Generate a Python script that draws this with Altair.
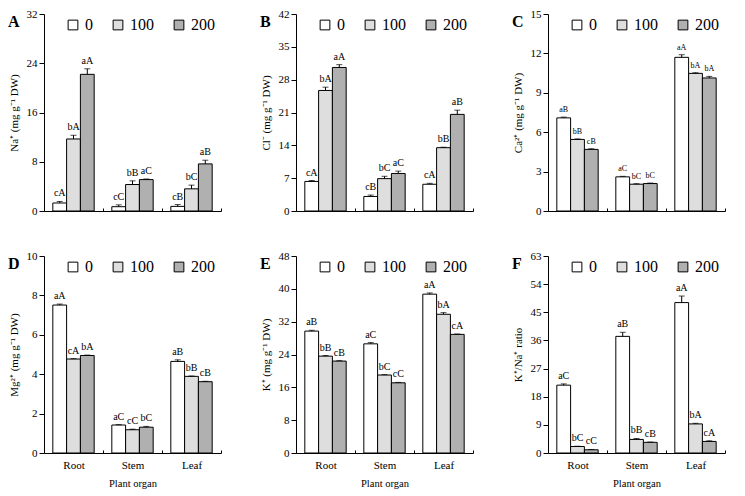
import altair as alt
import pandas as pd

SERIF = "Liberation Serif"

organs = ["Root", "Stem", "Leaf"]
treatments = ["0", "100", "200"]
fills = ["#ffffff", "#dedede", "#b0b0b0"]

na_mean = [1.3, 11.7, 22.2, 0.7, 4.3, 5.1, 0.75, 3.6, 7.65]
na_err = [0.25, 0.6, 0.9, 0.3, 0.6, 0.1, 0.3, 0.6, 0.6]
na_lab = ["cA", "bA", "aA", "cC", "bB", "aC", "cB", "bC", "aB"]

cl_mean = [6.3, 25.7, 30.6, 3.1, 6.9, 8.0, 5.7, 13.5, 20.6]
cl_err = [0.2, 0.7, 0.6, 0.3, 0.5, 0.5, 0.2, 0.1, 0.9]
cl_lab = ["cA", "bA", "aA", "cB", "bC", "aC", "cA", "bB", "aB"]

ca_mean = [7.09, 5.45, 4.69, 2.6, 2.04, 2.09, 11.7, 10.48, 10.13]
ca_err = [0.06, 0.04, 0.05, 0.04, 0.04, 0.04, 0.2, 0.05, 0.12]
ca_lab = ["aB", "bB", "cB", "aC", "bC", "bC", "aA", "bA", "bA"]

mg_mean = [7.51, 4.77, 4.95, 1.42, 1.18, 1.31, 4.65, 3.89, 3.62]
mg_err = [0.05, 0.02, 0.02, 0.02, 0.03, 0.04, 0.08, 0.02, 0.02]
mg_lab = ["aA", "cA", "bA", "aC", "cC", "bC", "aB", "bB", "cB"]

k_mean = [29.7, 23.6, 22.4, 26.6, 19.0, 17.1, 38.7, 33.8, 28.9]
k_err = [0.2, 0.15, 0.1, 0.3, 0.1, 0.1, 0.3, 0.4, 0.1]
k_lab = ["aB", "bB", "cB", "aC", "bC", "cC", "aA", "bA", "cA"]

ratio_mean = [21.7, 2.07, 1.03, 37.3, 4.34, 3.41, 48.1, 9.3, 3.7]
ratio_err = [0.4, 0.1, 0.1, 1.3, 0.3, 0.1, 2.1, 0.2, 0.2]
ratio_lab = ["aC", "bC", "cC", "aB", "bB", "cB", "aA", "bA", "cA"]

W, H = 177, 197


def panel(letter, mean, err, lab, ymax, ystep, ytitle, bottom, label_size=10):
    df = pd.DataFrame({
        "organ": [o for o in organs for _ in treatments],
        "trt": [t for _ in organs for t in treatments],
        "mean": mean,
        "err": err,
        "lab": lab,
    })
    df["top"] = df["mean"] + df["err"]

    if bottom:
        xaxis = alt.Axis(title="Plant organ", labelAngle=0, tickBand="extent",
                         tickSize={"expr": "-3"}, labelPadding=9,
                         labelFont=SERIF, labelFontSize=11, titleFont=SERIF,
                         titleFontSize=10.5, titlePadding=8,
                         titleFontWeight="normal")
    else:
        xaxis = alt.Axis(title=None, labels=False, tickBand="extent",
                         tickSize={"expr": "-3"})

    x = alt.X("organ:N", sort=organs, axis=xaxis,
              scale=alt.Scale(paddingInner=0, paddingOuter=0))
    xo = alt.XOffset("trt:N", sort=treatments,
                     scale=alt.Scale(paddingInner=0, paddingOuter=0.64))
    yscale = alt.Scale(domain=[0, ymax], nice=False)
    yaxis = alt.Axis(values=list(range(0, ymax + 1, ystep)), grid=False,
                     tickSize=5, labelFont=SERIF, labelFontSize=11,
                     labelOverlap=False, labelFlush=False,
                     titleFont=SERIF, titleFontSize=11, titlePadding=7,
                     titleFontWeight="normal")

    def yenc(field):
        return alt.Y(field, scale=yscale, axis=yaxis, title=ytitle)

    base = alt.Chart(df).encode(x=x, xOffset=xo)

    bars = base.mark_bar(stroke="black", strokeWidth=1).encode(
        y=yenc("mean:Q"),
        fill=alt.Fill("trt:N", sort=treatments,
                      scale=alt.Scale(domain=treatments, range=fills),
                      legend=alt.Legend(orient="none", legendX=21, legendY=3,
                                        direction="horizontal", title=None,
                                        symbolType="square", symbolSize=95,
                                        symbolStrokeColor="black",
                                        symbolStrokeWidth=1,
                                        labelFont=SERIF, labelFontSize=16,
                                        labelOffset=4, columnPadding=17)),
    )
    rule = base.mark_rule(color="black", strokeWidth=1).encode(
        y=yenc("mean:Q"), y2="top:Q")
    cap = base.mark_tick(color="black", size=6, thickness=1).encode(
        y=yenc("top:Q"))
    text = base.mark_text(baseline="bottom", dy=-3, font=SERIF,
                          fontSize=label_size, color="black").encode(
        y=yenc("top:Q"), text="lab:N")
    tag = alt.Chart(pd.DataFrame({"t": [letter]})).mark_text(
        font=SERIF, fontSize=16, fontWeight="bold", align="left",
        baseline="middle", color="black").encode(
        text="t:N", x=alt.value(-36), y=alt.value(8))

    return alt.layer(bars, rule, cap, text, tag).properties(width=W, height=H)


pA = panel("A", na_mean, na_err, na_lab, 32, 8, "Na⁺ (mg g⁻¹ DW)", False)
pB = panel("B", cl_mean, cl_err, cl_lab, 42, 7, "Cl⁻ (mg g⁻¹ DW)", False)
pC = panel("C", ca_mean, ca_err, ca_lab, 15, 3, "Ca²⁺ (mg g⁻¹ DW)", False, 8)
pD = panel("D", mg_mean, mg_err, mg_lab, 10, 2, "Mg²⁺ (mg g⁻¹ DW)", True)
pE = panel("E", k_mean, k_err, k_lab, 48, 8, "K⁺ (mg g⁻¹ DW)", True)
pF = panel("F", ratio_mean, ratio_err, ratio_lab, 63, 9, "K⁺/Na⁺ ratio", True)

row1 = alt.hconcat(pA, pB, pC, spacing=38).resolve_scale(
    fill="independent", y="independent").resolve_legend(fill="independent")
row2 = alt.hconcat(pD, pE, pF, spacing=38).resolve_scale(
    fill="independent", y="independent").resolve_legend(fill="independent")

chart = alt.vconcat(row1, row2, spacing=34).resolve_scale(
    fill="independent", y="independent").resolve_legend(
    fill="independent").properties(padding=0).configure_view(
    stroke=None).configure_axis(
    labelColor="black", titleColor="black", tickColor="black",
    domainColor="black", titleFontWeight="normal", domainWidth=1
).configure_legend(labelFont=SERIF, labelColor="black")

chart.save("out.html", embed_options={"renderer": "svg", "actions": False})
